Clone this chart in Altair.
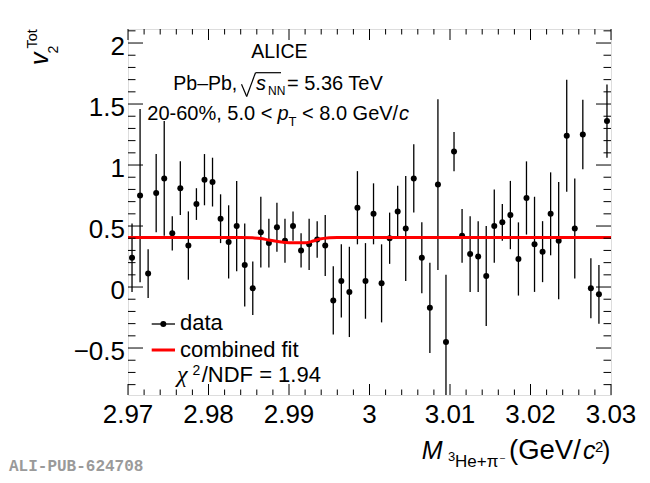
import altair as alt
import pandas as pd

# ---------------- data ----------------
mass = [2.9705, 2.9715, 2.9725, 2.9735, 2.9745, 2.9755, 2.9765, 2.9775, 2.9785, 2.9795,
        2.9805, 2.9815, 2.9825, 2.9835, 2.9845, 2.9855, 2.9865, 2.9875, 2.9885, 2.9895,
        2.9905, 2.9915, 2.9925, 2.9935, 2.9945, 2.9955, 2.9965, 2.9975, 2.9985, 2.9995,
        3.0005, 3.0015, 3.0025, 3.0035, 3.0045, 3.0055, 3.0065, 3.0075, 3.0085, 3.0095,
        3.0105, 3.0115, 3.0125, 3.0135, 3.0145, 3.0155, 3.0165, 3.0175, 3.0185, 3.0195,
        3.0205, 3.0215, 3.0225, 3.0235, 3.0245, 3.0255, 3.0265, 3.0275, 3.0285, 3.0295]
v2 = [0.24, 0.75, 0.11, 0.77, 0.89, 0.44, 0.81, 0.34, 0.68, 0.88,
      0.86, 0.56, 0.37, 0.50, 0.18, -0.01, 0.45, 0.36, 0.49, 0.38,
      0.50, 0.30, 0.35, 0.39, 0.34, -0.11, 0.05, -0.04, 0.65, 0.05,
      0.60, 0.03, 0.40, 0.62, 0.48, 0.89, 0.24, -0.17, 0.84, -0.45,
      1.11, 0.42, 0.27, 0.25, 0.09, 0.50, 0.53, 0.59, 0.23, 0.73,
      0.35, 0.29, 0.60, 0.38, 1.24, 0.48, 1.25, -0.01, -0.06, 1.36]
v2_err = [0.28, 0.71, 0.20, 0.32, 0.47, 0.14, 0.22, 0.28, 0.13, 0.21,
          0.20, 0.20, 0.30, 0.37, 0.34, 0.22, 0.29, 0.20, 0.20, 0.18,
          0.12, 0.14, 0.21, 0.15, 0.25, 0.28, 0.30, 0.37, 0.30, 0.31,
          0.25, 0.32, 0.21, 0.21, 0.43, 0.28, 0.29, 0.37, 0.70, 0.55,
          0.16, 0.22, 0.31, 0.29, 0.41, 0.30, 0.15, 0.28, 0.30, 0.30,
          0.39, 0.25, 0.34, 0.48, 0.46, 0.41, 0.285, 0.245, 0.24, 0.30]

fit_x = [2.970, 2.980, 2.984, 2.9855, 2.9865, 2.9875, 2.9888, 2.9900, 2.9922,
         2.9930, 2.9938, 2.9950, 2.996, 3.000, 3.030]
fit_y = [0.407, 0.407, 0.406, 0.403, 0.398, 0.385, 0.371, 0.363, 0.363,
         0.377, 0.393, 0.404, 0.407, 0.407, 0.407]

x_major = [2.97, 2.98, 2.99, 3.00, 3.01, 3.02, 3.03]
x_labels = ["2.97", "2.98", "2.99", "3", "3.01", "3.02", "3.03"]
x_minor = [2.972, 2.974, 2.976, 2.978, 2.982, 2.984, 2.986, 2.988, 2.992, 2.994, 2.996, 2.998,
           3.002, 3.004, 3.006, 3.008, 3.012, 3.014, 3.016, 3.018, 3.022, 3.024, 3.026, 3.028]
y_major = [-0.5, 0.0, 0.5, 1.0, 1.5, 2.0]
y_labels = ["\u22120.5", "0", "0.5", "1", "1.5", "2"]
y_minor = [-0.8, -0.7, -0.6, -0.4, -0.3, -0.2, -0.1, 0.1, 0.2, 0.3, 0.4, 0.6, 0.7, 0.8, 0.9,
           1.1, 1.2, 1.3, 1.4, 1.6, 1.7, 1.8, 1.9, 2.1]

# ---------------- layout ----------------
W, H = 483, 366
OX, OY = 128, 29          # page position of plot origin (8px margin + padding)
FONT = "Liberation Sans"

xs = alt.Scale(domain=[2.97, 3.03], nice=False, zero=False)
ys = alt.Scale(domain=[-0.885, 2.115], nice=False, zero=False)

df = pd.DataFrame({"m": mass, "v": v2, "e": v2_err})
df["lo"] = df["v"] - df["e"]
df["hi"] = df["v"] + df["e"]
fit = pd.DataFrame({"m": fit_x, "v": fit_y})

one = pd.DataFrame({"t": [""]})

errbars = alt.Chart(df).mark_rule(color="black", strokeWidth=1.3, clip=True).encode(
    x=alt.X("m:Q", scale=xs, axis=None),
    y=alt.Y("lo:Q", scale=ys, axis=None),
    y2="hi:Q",
)
points = alt.Chart(df).mark_point(filled=True, size=36, color="black", opacity=1,
                                  shape="circle", clip=True).encode(
    x=alt.X("m:Q", scale=xs, axis=None),
    y=alt.Y("v:Q", scale=ys, axis=None),
)
fitline = alt.Chart(fit).mark_line(color="#ff0000", strokeWidth=3, interpolate="monotone",
                                   clip=True).encode(
    x=alt.X("m:Q", scale=xs, axis=None),
    y=alt.Y("v:Q", scale=ys, axis=None),
)

# tick labels, placed through the scales
xlab = alt.Chart(pd.DataFrame({"p": x_major, "lab": x_labels})).mark_text(
    align="center", baseline="alphabetic", font=FONT, fontSize=26, color="black").encode(
    x=alt.X("p:Q", scale=xs, axis=None), y=alt.value(H + 28), text="lab:N")
ylab = alt.Chart(pd.DataFrame({"p": y_major, "lab": y_labels})).mark_text(
    align="right", baseline="alphabetic", font=FONT, fontSize=26, color="black", dy=11.5).encode(
    y=alt.Y("p:Q", scale=ys, axis=None), x=alt.value(-3), text="lab:N")


def xticks(vals, length):
    d = pd.DataFrame({"p": vals})
    b = alt.Chart(d).mark_rule(color="black", strokeWidth=1).encode(
        x=alt.X("p:Q", scale=xs, axis=None), y=alt.value(H), y2=alt.value(H - length))
    t = alt.Chart(d).mark_rule(color="black", strokeWidth=1).encode(
        x=alt.X("p:Q", scale=xs, axis=None), y=alt.value(0), y2=alt.value(length))
    return [b, t]


def yticks(vals, length):
    d = pd.DataFrame({"p": vals})
    l = alt.Chart(d).mark_rule(color="black", strokeWidth=1).encode(
        y=alt.Y("p:Q", scale=ys, axis=None), x=alt.value(0), x2=alt.value(length))
    r = alt.Chart(d).mark_rule(color="black", strokeWidth=1).encode(
        y=alt.Y("p:Q", scale=ys, axis=None), x=alt.value(W), x2=alt.value(W - length))
    return [l, r]


def txt(s, px, py, size, align="left", style="normal", angle=0, color="black",
        font=FONT, weight="normal"):
    kw = dict(align=align, baseline="alphabetic", font=font, fontSize=size,
              fontStyle=style, color=color, fontWeight=weight)
    if angle:
        kw["angle"] = angle
    return alt.Chart(pd.DataFrame({"t": [s]})).mark_text(**kw).encode(
        x=alt.value(px - OX), y=alt.value(py - OY), text="t:N")


def seg(x1, y1, x2, y2, width=1.2, color="black"):
    return alt.Chart(one).mark_rule(color=color, strokeWidth=width).encode(
        x=alt.value(x1 - OX), y=alt.value(y1 - OY), x2=alt.value(x2 - OX), y2=alt.value(y2 - OY))


layers = [errbars, points, fitline, xlab, ylab]
layers += xticks(x_major, 11) + xticks(x_minor, 5.5)
layers += yticks(y_major, 15) + yticks(y_minor, 7.5)

# header texts
layers += [
    txt("ALICE", 279.3, 58.3, 19.5, align="center"),
    txt("Pb\u2013Pb,", 173.3, 90, 19.5),
    seg(241.5, 84.3, 246.7, 96.5), seg(246.7, 96.5, 255.5, 72.7), seg(255.5, 72.7, 281, 72.7),
    txt("s", 256, 90, 20, style="italic"),
    txt("NN", 268, 95, 12),
    txt("= 5.36 TeV", 287, 90, 20),
    txt("20-60%, 5.0 <", 147.3, 120, 20),
    txt("p", 277.5, 120, 20, style="italic"),
    txt("T", 288.5, 126, 13),
    txt("< 8.0 GeV/", 302, 120, 20),
    txt("c", 399, 120, 20, style="italic"),
]

# legend
layers += [
    seg(151.7, 324, 175, 324, width=1.3),
    alt.Chart(one).mark_point(filled=True, size=36, color="black", opacity=1, shape="circle").encode(
        x=alt.value(163.3 - OX), y=alt.value(324 - OY)),
    txt("data", 180, 329.5, 22),
    seg(151.7, 350, 175, 350, width=3, color="#ff0000"),
    txt("combined fit", 180, 357, 22),
    txt("\u03c7", 177, 382, 24, font="Liberation Serif", style="italic"),
    txt("2", 192.5, 374.5, 14),
    txt("/NDF = 1.94", 201.7, 381.7, 22),
]

# x-axis title
layers += [
    txt("M", 421.7, 459.3, 25, style="italic"),
    txt("3", 448, 461, 13),
    txt("He+\u03c0", 455, 467.3, 17),
    txt("\u2013", 500, 461, 9),
    txt("(GeV/", 509, 459.3, 27.5),
    txt("c", 583, 459.3, 25, style="italic"),
    txt("2", 595, 452, 15),
    txt(")", 602, 459.3, 25),
]

# y-axis title (rotated)
layers += [
    txt("v", 48, 65, 25, style="italic", angle=270),
    txt("2", 58, 53.5, 14, angle=270),
    txt("Tot", 37, 48.5, 14.5, angle=270),
]

# watermark
layers += [txt("ALI-PUB-624708", 9, 471, 16, font="Liberation Mono", weight="bold", color="#9a9a9a")]

chart = alt.layer(*layers).properties(
    width=W, height=H,
    autosize=alt.AutoSizeParams(type="none"),
    padding={"left": 120, "top": 21, "right": 30, "bottom": 80},
).configure_view(stroke="black", strokeWidth=1).configure(background="white")

chart.save("out.html", embed_options={"renderer": "svg", "actions": False})
